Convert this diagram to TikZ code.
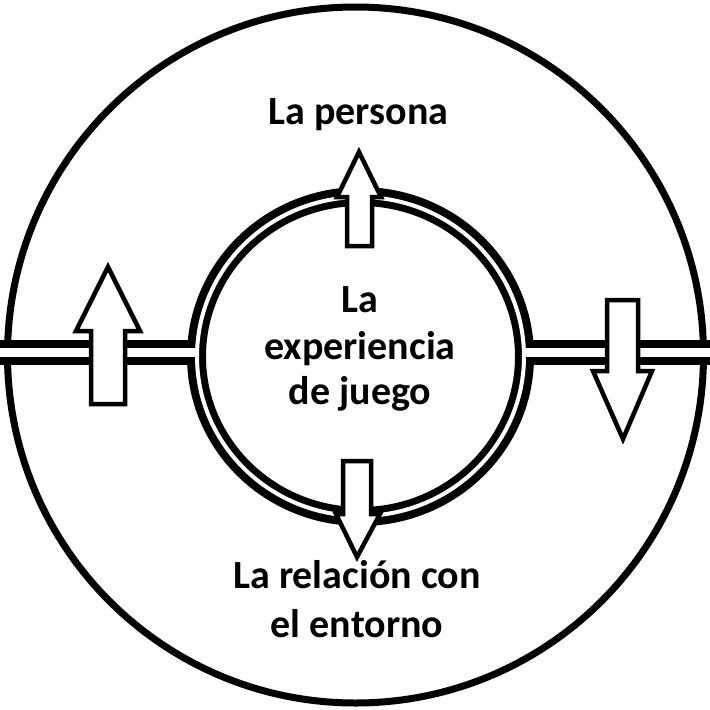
\documentclass[tikz,border=0pt]{standalone}
\usepackage{fontspec}
\setmainfont{Carlito}
\begin{document}
\begin{tikzpicture}[x=1pt,y=-1pt,
  arrowshape/.style={fill=white,draw=black,line width=4.5pt,line join=miter},
  lbl/.style={font=\fontsize{40}{46}\selectfont\bfseries,anchor=base,inner sep=0pt}]
\useasboundingbox (0,0) rectangle (710,710);
\clip (0,0) rectangle (710,710);
\fill[white] (0,0) rectangle (710,710);
% outer circle
\draw[line width=7pt] (355.5,355) circle[radius=348pt];
% inner double ring (black body)
\draw[line width=19pt] (360.5,356.5) ellipse[x radius=164pt, y radius=160pt];
% horizontal band (black body)
\fill (-5,340) rectangle (195,365);
\fill (526,340) rectangle (715,365);
% white gaps
\draw[white,line width=4pt] (360.5,356.5) ellipse[x radius=163.5pt, y radius=159.5pt];
\fill[white] (-5,348) rectangle (198,357);
\fill[white] (523,348) rectangle (715,357);
% arrows
\draw[arrowshape] (347,246) -- (347,197) -- (337,197) -- (359,152) -- (381,197) -- (372,197) -- (372,246) -- cycle;
\draw[arrowshape] (91,404) -- (91,331) -- (76,331) -- (108,267) -- (140,331) -- (125,331) -- (125,404) -- cycle;
\draw[arrowshape] (607,300) -- (607,371) -- (593,371) -- (623,439) -- (652,371) -- (638,371) -- (638,300) -- cycle;
\draw[arrowshape] (343,461) -- (343,514) -- (336,514) -- (357,557) -- (380,514) -- (371,514) -- (371,461) -- cycle;
% texts
\node[lbl] (persona) at (358.5,124) {La persona};
\node[lbl] (c1) at (360,312) {La};
\node[lbl] (c2) at (360,359) {experiencia};
\node[lbl] (c3) at (360,404) {de juego};
\node[lbl] (r1) at (357,588) {La relación con};
\node[lbl] (r2) at (357,637) {el entorno};
\end{tikzpicture}
\end{document}
